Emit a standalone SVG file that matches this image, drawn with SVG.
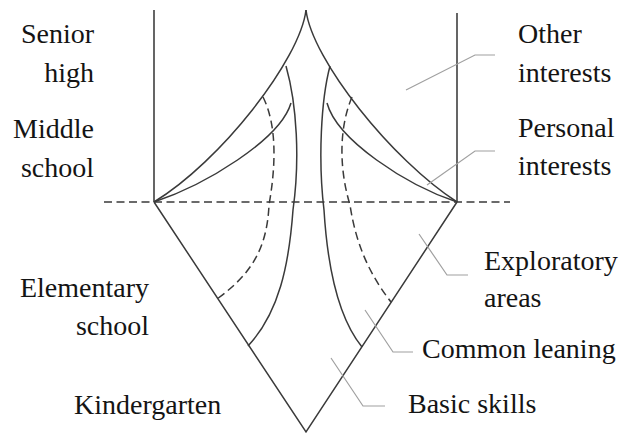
<svg xmlns="http://www.w3.org/2000/svg" width="624" height="434" viewBox="0 0 624 434">
<style>
text{font-family:'Liberation Serif','Times New Roman',serif;font-size:28px;fill:#141414}
.r{text-anchor:end}
.ln{fill:none;stroke:#3a3a3a;stroke-width:1.5}
.fr{fill:none;stroke:#555;stroke-width:1.8}
.ds{fill:none;stroke:#3a3a3a;stroke-width:1.5;stroke-dasharray:8 4.5}
.ld{fill:none;stroke:#a0a0a0;stroke-width:1.2}
</style>
<rect width="624" height="434" fill="#fff"/>
<g id="frame">
<line class="fr" x1="154" y1="10" x2="154" y2="202"/>
<line class="fr" x1="457" y1="13" x2="457" y2="202"/>
<line class="ds" x1="104" y1="202" x2="510" y2="202" stroke-width="1.6"/>
<path class="ln" d="M154,202 L306,432 L457,202"/>
</g>
<g id="connectors">
<path class="ln" d="M306,10 C300,60 220,162 154,202"/>
<path class="ln" d="M306,10 C312,60 392,160 457,202"/>
<path class="ln" d="M154,202 C205,185 280,140 291,103"/>
<path class="ln" d="M457,202 C406,185 337,140 327,103"/>
<path class="ln" d="M286,66 C297,105 300,160 293,210 C289,265 279,313 248,346"/>
<path class="ln" d="M330,66 C321,100 318,160 324,210 C328,275 340,320 362,347"/>
<path class="ds" d="M263,97 C277,125 276,165 269,205 C267,250 250,275 217,299"/>
<path class="ds" d="M352,97 C340,125 338,165 350,205 C356,245 370,275 391,302"/>
</g>
<g id="leaders">
<path class="ld" d="M406,90 L475,55 L495,55"/>
<path class="ld" d="M427,185 L475,151 L495,151"/>
<path class="ld" d="M419,234 L447,275 L468,275"/>
<path class="ld" d="M365,310 L393,352 L413,352"/>
<path class="ld" d="M331,358 L363,406 L385,406"/>
</g>
<g id="senior-high"><text class="r" x="94" y="43">Senior</text><text class="r" x="94" y="82">high</text></g>
<g id="middle-school"><text class="r" x="94" y="138">Middle</text><text class="r" x="94" y="177">school</text></g>
<g id="elementary-school"><text class="r" x="149" y="297">Elementary</text><text class="r" x="149" y="335">school</text></g>
<g id="kindergarten"><text x="74" y="414">Kindergarten</text></g>
<g id="other-interests"><text x="518" y="43">Other</text><text x="518" y="82">interests</text></g>
<g id="personal-interests"><text x="518" y="137">Personal</text><text x="518" y="175">interests</text></g>
<g id="exploratory-areas"><text x="484" y="270">Exploratory</text><text x="484" y="307">areas</text></g>
<g id="common-leaning"><text x="422" y="358">Common leaning</text></g>
<g id="basic-skills"><text x="408" y="413">Basic skills</text></g>
</svg>
